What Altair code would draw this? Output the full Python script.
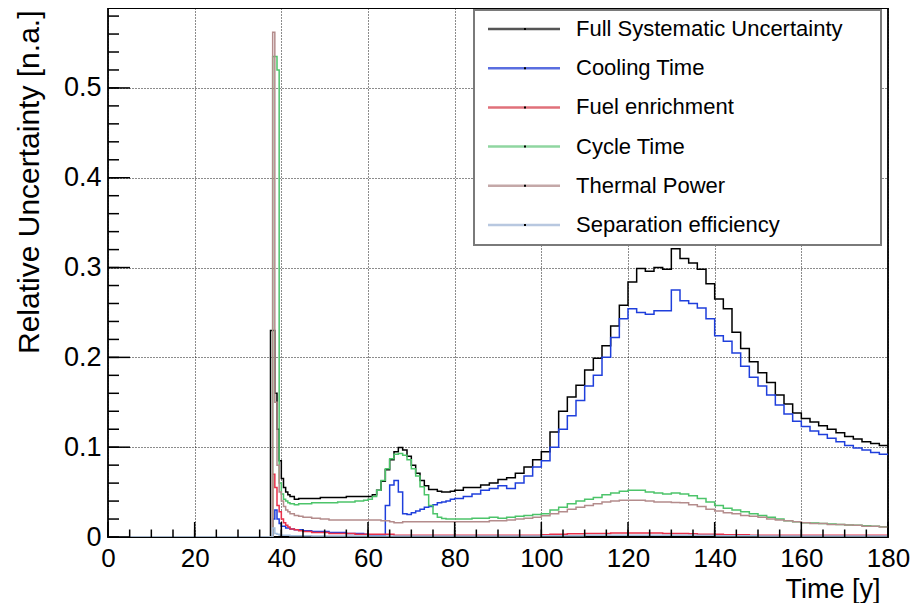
import altair as alt
import pandas as pd

# ---------------- data ----------------
time_y = [0, 30, 37, 37.5, 38, 38.5, 39, 39.5, 40, 40.5, 41, 41.5, 42, 43, 44, 45,
          47, 49, 51, 53, 55, 57, 59,
          60, 61, 62, 63, 64, 65, 66, 67, 68, 69, 70, 71, 72, 73, 74, 75, 76, 77, 78, 79,
          80, 82, 84, 86, 88, 90, 92, 94, 96, 98, 100, 102, 104, 106, 108, 110, 112, 114,
          116, 118, 120, 122, 124, 126, 128, 130, 132, 134, 136, 138, 140, 142, 144, 146,
          148, 150, 152, 154, 156, 158, 160, 162, 164, 166, 168, 170, 172, 174, 176, 178, 180]

full_syst = [0, 0, 0, 0.23, 0.23, 0.16, 0.12, 0.085, 0.065, 0.055, 0.05, 0.047, 0.045, 0.042, 0.043, 0.043,
             0.043, 0.044, 0.044, 0.044, 0.045, 0.045, 0.045,
             0.045, 0.047, 0.052, 0.062, 0.075, 0.086, 0.095, 0.0996, 0.097, 0.090, 0.080, 0.071, 0.063,
             0.057, 0.053, 0.053, 0.051, 0.050, 0.050, 0.051,
             0.052, 0.055, 0.055, 0.058, 0.060, 0.064, 0.066, 0.071, 0.078, 0.086, 0.095, 0.117, 0.140,
             0.156, 0.169, 0.186, 0.199, 0.213, 0.235, 0.258, 0.284, 0.299, 0.296, 0.300, 0.298, 0.321,
             0.310, 0.305, 0.298, 0.282, 0.265, 0.254, 0.228, 0.210, 0.195, 0.183, 0.172, 0.158, 0.148,
             0.138, 0.132, 0.128, 0.124, 0.120, 0.116, 0.112, 0.109, 0.106, 0.104, 0.102, 0.100]

cooling = [0, 0, 0, 0, 0.02, 0.03, 0.02, 0.015, 0.012, 0.012, 0.01, 0.01, 0.009, 0.008, 0.008, 0.007,
           0.006, 0.006, 0.005, 0.005, 0.004, 0.004, 0.003,
           0.002, 0.002, 0.002, 0.002, 0.035, 0.058, 0.063, 0.050, 0.026, 0.025, 0.027, 0.029, 0.031,
           0.033, 0.034, 0.036, 0.038, 0.039, 0.040, 0.042,
           0.043, 0.045, 0.048, 0.052, 0.054, 0.057, 0.054, 0.060, 0.068, 0.078, 0.085, 0.100, 0.120,
           0.135, 0.152, 0.168, 0.180, 0.200, 0.222, 0.243, 0.254, 0.250, 0.248, 0.252, 0.252, 0.275,
           0.263, 0.260, 0.255, 0.243, 0.224, 0.218, 0.205, 0.190, 0.178, 0.168, 0.158, 0.147, 0.137,
           0.129, 0.123, 0.118, 0.114, 0.110, 0.106, 0.102, 0.099, 0.097, 0.094, 0.092, 0.091]

fuel = [0, 0, 0, 0, 0.07, 0.055, 0.035, 0.028, 0.02, 0.016, 0.013, 0.011, 0.009, 0.008, 0.007, 0.006,
        0.005, 0.005, 0.004, 0.004, 0.004, 0.003, 0.003,
        0.003, 0.003, 0.003, 0.003, 0.003, 0.003, 0.002, 0.002, 0.002, 0.002, 0.002, 0.002, 0.002,
        0.002, 0.002, 0.002, 0.002, 0.002, 0.002, 0.002,
        0.002, 0.002, 0.002, 0.002, 0.002, 0.002, 0.002, 0.002, 0.002, 0.002, 0.0025, 0.003, 0.003,
        0.0035, 0.0035, 0.004, 0.004, 0.004, 0.0045, 0.0045, 0.0045, 0.0045, 0.0045, 0.0045, 0.004,
        0.004, 0.004, 0.0035, 0.003, 0.003, 0.003, 0.0025, 0.0025, 0.0025, 0.002, 0.002, 0.002,
        0.002, 0.002, 0.002, 0.002, 0.002, 0.002, 0.002, 0.002, 0.002, 0.002, 0.002, 0.002, 0.002, 0.002]

cycle = [0, 0, 0, 0, 0.535, 0.535, 0.52, 0.06, 0.048, 0.042, 0.040, 0.038, 0.037, 0.036, 0.037, 0.037,
         0.038, 0.038, 0.038, 0.039, 0.039, 0.040, 0.041,
         0.042, 0.045, 0.052, 0.063, 0.076, 0.087, 0.092, 0.093, 0.091, 0.086, 0.076, 0.068, 0.056,
         0.047, 0.035, 0.026, 0.022, 0.0205, 0.020, 0.020,
         0.020, 0.020, 0.021, 0.021, 0.022, 0.021, 0.022, 0.023, 0.024, 0.025, 0.026, 0.030, 0.033,
         0.037, 0.040, 0.042, 0.044, 0.047, 0.049, 0.051, 0.052, 0.052, 0.050, 0.049, 0.048, 0.049,
         0.048, 0.046, 0.043, 0.039, 0.035, 0.032, 0.030, 0.028, 0.026, 0.024, 0.022, 0.020, 0.018,
         0.017, 0.016, 0.0155, 0.015, 0.0145, 0.014, 0.0135, 0.013, 0.0125, 0.012, 0.0115, 0.011]

thermal = [0, 0, 0, 0, 0.562, 0.15, 0.08, 0.05, 0.04, 0.034, 0.03, 0.028, 0.026, 0.024, 0.023, 0.022,
           0.021, 0.020, 0.019, 0.019, 0.019, 0.019, 0.019,
           0.019, 0.019, 0.019, 0.018, 0.018, 0.017, 0.016, 0.016, 0.017, 0.017, 0.017, 0.017, 0.017,
           0.017, 0.017, 0.017, 0.017, 0.017, 0.017, 0.017,
           0.017, 0.017, 0.017, 0.017, 0.018, 0.018, 0.019, 0.020, 0.021, 0.022, 0.0236, 0.026, 0.028,
           0.031, 0.033, 0.035, 0.037, 0.039, 0.040, 0.041, 0.041, 0.041, 0.040, 0.039, 0.039, 0.0385,
           0.038, 0.036, 0.034, 0.031, 0.029, 0.027, 0.026, 0.024, 0.023, 0.022, 0.020, 0.019, 0.018,
           0.017, 0.016, 0.015, 0.015, 0.014, 0.014, 0.0135, 0.013, 0.012, 0.012, 0.011, 0.011]

separation = [0, 0, 0, 0, 0.01, 0.004, 0.003, 0.002, 0.002, 0.002, 0.002, 0.002, 0.0015, 0.0015, 0.0015, 0.0015,
              0.001, 0.001, 0.001, 0.001, 0.001, 0.001, 0.001,
              0.001, 0.001, 0.001, 0.001, 0.001, 0.001, 0.001, 0.001, 0.001, 0.001, 0.001, 0.001, 0.001,
              0.001, 0.001, 0.001, 0.001, 0.001, 0.001, 0.001,
              0.001, 0.001, 0.001, 0.001, 0.001, 0.001, 0.001, 0.001, 0.001, 0.001, 0.0015, 0.0015, 0.0015,
              0.0015, 0.0015, 0.002, 0.002, 0.002, 0.002, 0.002, 0.002, 0.002, 0.002, 0.002, 0.002, 0.002,
              0.002, 0.002, 0.002, 0.002, 0.0015, 0.0015, 0.0015, 0.0015, 0.0015, 0.001, 0.001, 0.001, 0.001,
              0.001, 0.001, 0.001, 0.001, 0.001, 0.001, 0.001, 0.001, 0.001, 0.001, 0.001, 0.001]

series_names = ["Full Systematic Uncertainty", "Cooling Time", "Fuel enrichment",
                "Cycle Time", "Thermal Power", "Separation efficiency"]
series_values = [full_syst, cooling, fuel, cycle, thermal, separation]
series_colors = ["#000000", "#1f3fdc", "#e8304a", "#4cc46a", "#b48c8c", "#a4bedc"]
legend_colors = ["#555555", "#5a6ee0", "#e0707a", "#8fd6a0", "#c4a8a8", "#b8c8e0"]

x_major = [0, 20, 40, 60, 80, 100, 120, 140, 160, 180]
x_minor = [0, 5, 10, 15, 20, 25, 30, 35, 40, 45, 50, 55, 60, 65, 70, 75, 80, 85, 90, 95,
           100, 105, 110, 115, 120, 125, 130, 135, 140, 145, 150, 155, 160, 165, 170, 175, 180]
y_major = [0, 0.1, 0.2, 0.3, 0.4, 0.5]
y_minor = [0, 0.02, 0.04, 0.06, 0.08, 0.1, 0.12, 0.14, 0.16, 0.18, 0.2, 0.22, 0.24, 0.26, 0.28,
           0.3, 0.32, 0.34, 0.36, 0.38, 0.4, 0.42, 0.44, 0.46, 0.48, 0.5, 0.52, 0.54, 0.56, 0.58]

for v in series_values:
    assert len(v) == len(time_y)

# ---------------- chart ----------------
W, H = 780, 529
FONT = "Liberation Sans"

xscale = alt.Scale(domain=[0, 180], nice=False, zero=False)
yscale = alt.Scale(domain=[0, 0.589], nice=False, zero=False)

x_axis = alt.Axis(values=x_major, grid=True, gridDash=[1, 2], gridColor="#000000", gridOpacity=0.9,
                  gridWidth=1, ticks=False, tickSize=0, domain=False, labelFont=FONT, labelFontSize=26,
                  labelColor="#000000", labelPadding=8, labelFlush=False, labelOverlap=False,
                  title="Time [y]", titleFont=FONT, titleFontSize=27, titleFontWeight="normal",
                  titleColor="#000000", titleAnchor="end", titleAlign="right", titleBaseline="alphabetic",
                  titleX=772, titleY=60)
y_axis = alt.Axis(values=y_major, grid=True, gridDash=[1, 2], gridColor="#000000", gridOpacity=0.9,
                  gridWidth=1, ticks=False, tickSize=0, domain=False, labelFont=FONT, labelFontSize=27,
                  labelColor="#000000", labelPadding=7, labelFlush=False, labelOverlap=False,
                  labelExpr="datum.value == 0 ? '0' : format(datum.value, '.1f')",
                  title="Relative Uncertainty [n.a.]", titleFont=FONT, titleFontSize=30,
                  titleFontWeight="normal", titleColor="#000000", titleAngle=-90, titleAlign="right",
                  titleBaseline="alphabetic", titleX=-70, titleY=2)

layers = []
for name, vals, col in zip(series_names, series_values, series_colors):
    d = pd.DataFrame({"t": time_y, "v": vals, "series": name})
    layers.append(
        alt.Chart(d).mark_line(interpolate="step-after", color=col, strokeWidth=1.5, clip=True).encode(
            x=alt.X("t:Q", scale=xscale, axis=x_axis),
            y=alt.Y("v:Q", scale=yscale, axis=y_axis),
        )
    )

# inward ticks (ROOT style)
xmaj_df = pd.DataFrame({"t": x_major})
xmin_df = pd.DataFrame({"t": x_minor})
ymaj_df = pd.DataFrame({"v": y_major})
ymin_df = pd.DataFrame({"v": y_minor})

tick_x_major = alt.Chart(xmaj_df).mark_rule(color="#000000", strokeWidth=1.5).encode(
    x=alt.X("t:Q", scale=xscale, axis=x_axis), y=alt.value(H), y2=alt.value(H - 15))
tick_x_minor = alt.Chart(xmin_df).mark_rule(color="#000000", strokeWidth=1.5).encode(
    x=alt.X("t:Q", scale=xscale, axis=x_axis), y=alt.value(H), y2=alt.value(H - 7.5))
tick_y_major = alt.Chart(ymaj_df).mark_rule(color="#000000", strokeWidth=1.5).encode(
    y=alt.Y("v:Q", scale=yscale, axis=y_axis), x=alt.value(0), x2=alt.value(22))
tick_y_minor = alt.Chart(ymin_df).mark_rule(color="#000000", strokeWidth=1.5).encode(
    y=alt.Y("v:Q", scale=yscale, axis=y_axis), x=alt.value(0), x2=alt.value(11))

# legend box (ROOT TLegend look), drawn in pixel space
one = pd.DataFrame({"a": [0]})
box = alt.Chart(one).mark_rect(fill="#ffffff", stroke="#7a7a7a", strokeWidth=2).encode(
    x=alt.value(366), x2=alt.value(773), y=alt.value(2), y2=alt.value(237))
legend_layers = [box]
for i, (name, col) in enumerate(zip(series_names, legend_colors)):
    ly = 21 + i * 39.2
    legend_layers.append(alt.Chart(one).mark_rule(strokeWidth=2.5, color=col).encode(
        x=alt.value(380), x2=alt.value(452), y=alt.value(ly)))
    legend_layers.append(alt.Chart(one).mark_square(size=4, color="#000000", opacity=1).encode(
        x=alt.value(417), y=alt.value(ly)))
    legend_layers.append(alt.Chart(one).mark_text(align="left", baseline="middle", font=FONT,
                                                  fontSize=22, color="#000000", text=name).encode(
        x=alt.value(468), y=alt.value(ly)))

chart = alt.layer(*layers, tick_x_major, tick_x_minor, tick_y_major, tick_y_minor,
                  *legend_layers).properties(
    width=W, height=H,
    padding={"left": 100, "top": 0, "right": 23, "bottom": 66},
    autosize=alt.AutoSizeParams(type="none"),
    background="#ffffff",
).configure_view(stroke="#000000", strokeWidth=1.8)

chart.save("out.html", embed_options={"renderer": "svg", "actions": False})
